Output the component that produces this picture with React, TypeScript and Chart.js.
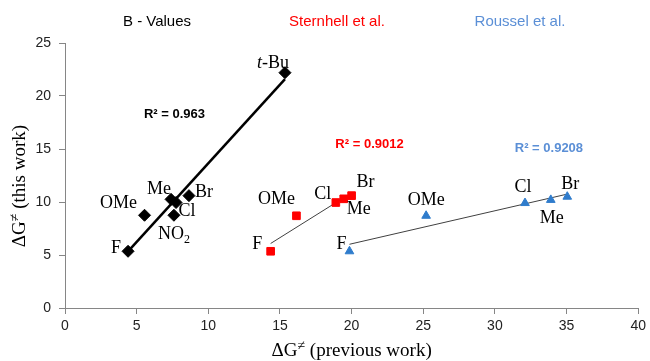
import React, { useEffect, useRef } from "react";
import { Chart, registerables } from "chart.js";
Chart.register(...registerables);

// ---- data ----
const seriesNames = ["B - Values", "Sternhell et al.", "Roussel et al."];
const bLabels = ["F", "OMe", "Me", "Cl", "NO2", "Br", "t-Bu"];
const bX = [4.4, 5.55, 7.4, 7.75, 7.6, 8.65, 15.35];
const bY = [5.35, 8.75, 10.25, 9.95, 8.75, 10.6, 22.2];
const sLabels = ["F", "OMe", "Cl", "Me", "Br"];
const sX = [14.35, 16.15, 18.9, 19.45, 20.0];
const sY = [5.35, 8.7, 9.95, 10.3, 10.6];
const rLabels = ["F", "OMe", "Cl", "Me", "Br"];
const rX = [19.85, 25.2, 32.1, 33.9, 35.05];
const rY = [5.35, 8.7, 9.9, 10.2, 10.5];
const r2Texts = ["R² = 0.963", "R² = 0.9012", "R² = 0.9208"];
const xTickValues = [0, 5, 10, 15, 20, 25, 30, 35, 40];
const yTickValues = [0, 5, 10, 15, 20, 25];
const xTitle = "(previous work)";
const yTitle = "(this work)";

// ---- layout / style (not data) ----
const colors = ["#000000", "#ff0000", "#2f7ccc"];
const r2Colors = ["#000000", "#ff0000", "#5b8fd6"];
const titleColors = ["#000000", "#ff0000", "#5b8fd6"];
const titlePx = [157, 337, 520];
const r2Pos = [
  { x: 7.64, y: 18.4 },
  { x: 21.25, y: 15.57 },
  { x: 33.77, y: 15.16 },
];
const labelOffsets = [
  [[-12, -4], [-26, -13], [-12, -11.5], [11, 7], [0, 18], [15, -5], [-12, -11]],
  [[-13.5, -8], [-20, -18], [-13, -9.5], [15, 9], [14, -15]],
  [[-8, -8], [0, -17], [-2, -17], [1, 17], [3, -14]],
];

const SERIF = '"Liberation Serif", "Times New Roman", serif';
const SANS = '"Liberation Sans", Arial, sans-serif';

function pts(xs: number[], ys: number[]) {
  return xs.map((x, i) => ({ x, y: ys[i] }));
}

function trend(xs: number[], ys: number[]) {
  const n = xs.length;
  const mx = xs.reduce((a, b) => a + b, 0) / n;
  const my = ys.reduce((a, b) => a + b, 0) / n;
  let sxy = 0, sxx = 0;
  for (let i = 0; i < n; i++) {
    sxy += (xs[i] - mx) * (ys[i] - my);
    sxx += (xs[i] - mx) * (xs[i] - mx);
  }
  const m = sxy / sxx;
  const b = my - m * mx;
  const x0 = Math.min(...xs);
  const x1 = Math.max(...xs);
  return [
    { x: x0, y: m * x0 + b },
    { x: x1, y: m * x1 + b },
  ];
}

type Part = { text: string; font: string; dy: number };

function drawParts(ctx: CanvasRenderingContext2D, parts: Part[], cx: number, baseline: number) {
  let total = 0;
  const widths: number[] = [];
  for (const p of parts) {
    ctx.font = p.font;
    const w = ctx.measureText(p.text).width;
    widths.push(w);
    total += w;
  }
  let x = cx - total / 2;
  ctx.textAlign = "left";
  ctx.textBaseline = "alphabetic";
  parts.forEach((p, i) => {
    ctx.font = p.font;
    ctx.fillText(p.text, x, baseline + p.dy);
    x += widths[i];
  });
}

function labelParts(label: string): Part[] {
  const f = `18px ${SERIF}`;
  if (label === "NO2") {
    return [
      { text: "NO", font: f, dy: 0 },
      { text: "2", font: `12px ${SERIF}`, dy: 4 },
    ];
  }
  if (label === "t-Bu") {
    return [
      { text: "t", font: `italic 18px ${SERIF}`, dy: 0 },
      { text: "-Bu", font: f, dy: 0 },
    ];
  }
  return [{ text: label, font: f, dy: 0 }];
}

function titleParts(rest: string): Part[] {
  return [
    { text: "ΔG", font: `19px ${SERIF}`, dy: 0 },
    { text: "≠", font: `14px ${SERIF}`, dy: -6 },
    { text: " " + rest, font: `19px ${SERIF}`, dy: 0 },
  ];
}

const textPlugin = {
  id: "textPlugin",
  afterDraw(chart: any) {
    const ctx: CanvasRenderingContext2D = chart.ctx;
    const xs = chart.scales.x;
    const ys = chart.scales.y;
    ctx.save();
    // series titles
    seriesNames.forEach((name, i) => {
      ctx.fillStyle = titleColors[i];
      drawParts(ctx, [{ text: name, font: `15px ${SANS}`, dy: 0 }], titlePx[i], 26);
    });
    // R² texts
    r2Texts.forEach((t, i) => {
      ctx.fillStyle = r2Colors[i];
      const px = xs.getPixelForValue(r2Pos[i].x);
      const py = ys.getPixelForValue(r2Pos[i].y);
      drawParts(ctx, [{ text: t, font: `bold 13px ${SANS}`, dy: 0 }], px, py + 5);
    });
    // point labels
    const groups = [
      { labels: bLabels, x: bX, y: bY },
      { labels: sLabels, x: sX, y: sY },
      { labels: rLabels, x: rX, y: rY },
    ];
    ctx.fillStyle = "#000000";
    groups.forEach((g, gi) => {
      g.labels.forEach((lab, i) => {
        const px = xs.getPixelForValue(g.x[i]);
        const py = ys.getPixelForValue(g.y[i]);
        const off = labelOffsets[gi][i];
        drawParts(ctx, labelParts(lab), px + off[0], py + off[1] + 6);
      });
    });
    // axis titles
    const area = chart.chartArea;
    drawParts(ctx, titleParts(xTitle), (area.left + area.right) / 2, 356);
    ctx.translate(25, 186);
    ctx.rotate(-Math.PI / 2);
    drawParts(ctx, titleParts(yTitle), 0, 0);
    ctx.restore();
  },
};

export default function App() {
  const ref = useRef<HTMLCanvasElement | null>(null);
  useEffect(() => {
    document.body.style.margin = "0";
    const canvas = ref.current!;
    const axisColor = "#868686";
    const chart = new Chart(canvas, {
      type: "scatter",
      data: {
        datasets: [
          {
            label: seriesNames[0],
            data: pts(bX, bY),
            pointStyle: "rectRot",
            pointRadius: 6,
            backgroundColor: colors[0],
            borderColor: colors[0],
            borderWidth: 1,
            order: 0,
          },
          {
            label: seriesNames[1],
            data: pts(sX, sY),
            pointStyle: "rect",
            pointRadius: 5.4,
            backgroundColor: colors[1],
            borderColor: colors[1],
            borderWidth: 1,
            order: 0,
          },
          {
            label: seriesNames[2],
            data: pts(rX, rY),
            pointStyle: "triangle",
            pointRadius: 5,
            backgroundColor: colors[2],
            borderColor: colors[2],
            borderWidth: 1,
            order: 0,
          },
          {
            type: "line",
            label: "trend B",
            data: trend(bX, bY),
            borderColor: "#000000",
            borderWidth: 2.5,
            pointRadius: 0,
            showLine: true,
            order: 1,
          } as any,
          {
            type: "line",
            label: "trend S",
            data: trend(sX, sY),
            borderColor: "#404040",
            borderWidth: 1,
            pointRadius: 0,
            showLine: true,
            order: 1,
          } as any,
          {
            type: "line",
            label: "trend R",
            data: trend(rX, rY),
            borderColor: "#404040",
            borderWidth: 1,
            pointRadius: 0,
            showLine: true,
            order: 1,
          } as any,
        ],
      },
      options: {
        animation: false,
        responsive: false,
        maintainAspectRatio: false,
        layout: { padding: { top: 43, right: 10, left: 0, bottom: 0 } },
        plugins: { legend: { display: false }, tooltip: { enabled: false } },
        scales: {
          x: {
            type: "linear",
            min: 0,
            max: 40,
            afterBuildTicks: (s: any) => {
              s.ticks = xTickValues.map((v) => ({ value: v }));
            },
            afterFit: (s: any) => {
              s.height = 53;
            },
            grid: { drawOnChartArea: false, drawTicks: true, tickLength: 6, color: axisColor },
            border: { color: axisColor, width: 1 },
            ticks: { color: "#222222", font: { family: SANS, size: 14 }, padding: 4, maxRotation: 0 },
          },
          y: {
            type: "linear",
            min: 0,
            max: 25,
            afterBuildTicks: (s: any) => {
              s.ticks = yTickValues.map((v) => ({ value: v }));
            },
            afterFit: (s: any) => {
              s.width = 65;
            },
            grid: { drawOnChartArea: false, drawTicks: true, tickLength: 6, color: axisColor },
            border: { color: axisColor, width: 1 },
            ticks: { color: "#222222", font: { family: SANS, size: 14 }, padding: 8 },
          },
        },
      },
      plugins: [textPlugin],
    } as any);
    return () => chart.destroy();
  }, []);
  return (
    <div style={{ width: 650, height: 361 }}>
      <canvas ref={ref} width={650} height={361} style={{ display: "block" }} />
    </div>
  );
}
